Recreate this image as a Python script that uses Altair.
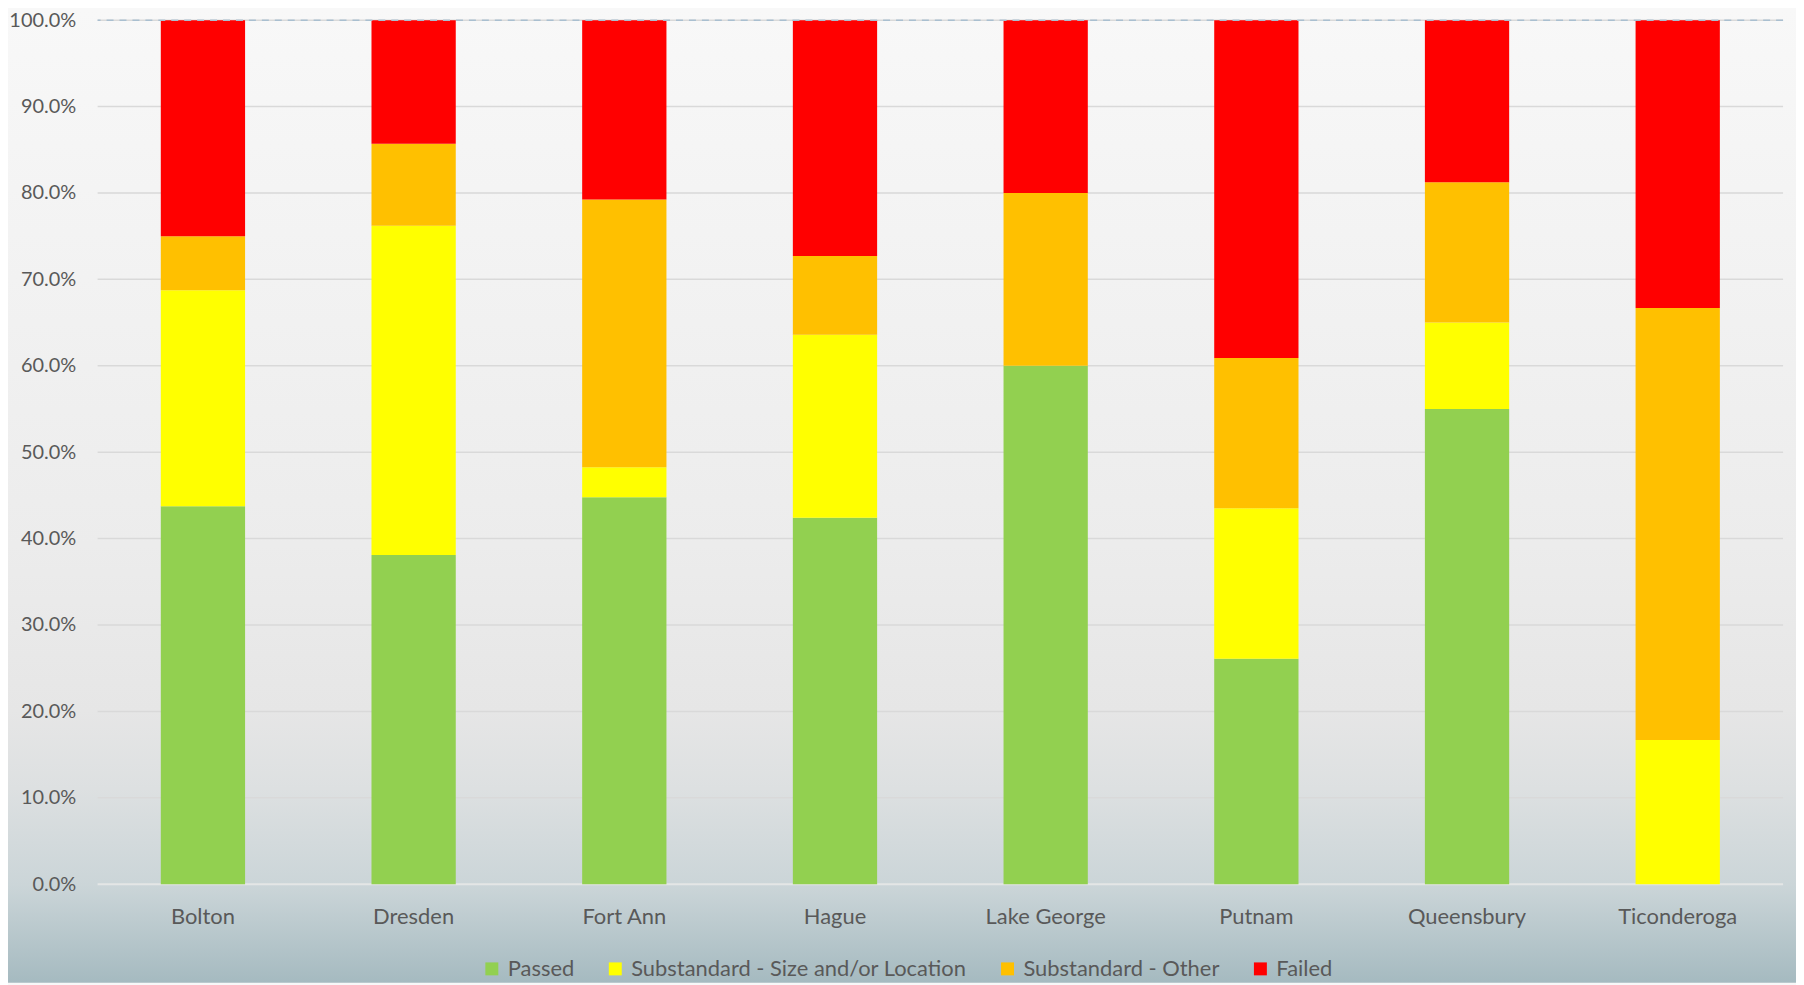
import altair as alt
import pandas as pd

towns = ["Bolton", "Dresden", "Fort Ann", "Hague", "Lake George", "Putnam", "Queensbury", "Ticonderoga"]
passed = [0.4375, 0.381, 0.448, 0.424, 0.600, 0.261, 0.550, 0.000]
size_loc = [0.250, 0.381, 0.0345, 0.212, 0.000, 0.174, 0.100, 0.167]
other = [0.0625, 0.095, 0.310, 0.091, 0.200, 0.174, 0.1625, 0.500]
failed = [0.250, 0.143, 0.2075, 0.273, 0.200, 0.391, 0.1875, 0.333]
categories = ["Passed", "Substandard - Size and/or Location", "Substandard - Other", "Failed"]
colors = ["#92d050", "#ffff00", "#ffc000", "#ff0000"]
y_ticks = [0.0, 0.1, 0.2, 0.3, 0.4, 0.5, 0.6, 0.7, 0.8, 0.9, 1.0]
grid_values = [0.1, 0.2, 0.3, 0.4, 0.5, 0.6, 0.7, 0.8, 0.9, 1.0]

series = [passed, size_loc, other, failed]
rows = []
for ci, (cat, vals) in enumerate(zip(categories, series)):
    for t, v in zip(towns, vals):
        rows.append({"town": t, "category": cat, "value": v, "idx": ci})
df = pd.DataFrame(rows)

W, H = 1693, 868
PAD_L, PAD_T = 90, 10
TOTAL_W, TOTAL_H = 1796, 977
FONT = "Lato"
TXT = "#595959"
FS = 22

yscale = alt.Scale(domain=[0, 1], nice=False, zero=True)
y_axis = alt.Axis(
    values=y_ticks, format=".1%", grid=False, domain=False, ticks=False,
    tickSize=0, labelPadding=22, labelFont=FONT, labelFontSize=20,
    labelColor=TXT, zindex=1, title=None,
)

bg = alt.Chart(pd.DataFrame({"a": [0]})).mark_rect(
    clip=False,
    fill=alt.Gradient(
        gradient="linear",
        x1=0, x2=0, y1=0, y2=1,
        stops=[
            alt.GradientStop(color="#f8f8f8", offset=0),
            alt.GradientStop(color="#ececec", offset=0.55),
            alt.GradientStop(color="#e6e6e6", offset=0.72),
            alt.GradientStop(color="#dde0e1", offset=0.80),
            alt.GradientStop(color="#cbd5d8", offset=0.90),
            alt.GradientStop(color="#a5bac0", offset=1.0),
        ],
    ),
).encode(
    x=alt.value(-PAD_L), x2=alt.value(TOTAL_W - PAD_L),
    y=alt.value(-PAD_T), y2=alt.value(TOTAL_H - PAD_T),
)

grid = alt.Chart(pd.DataFrame({"v": grid_values})).mark_rule(
    color="#d9d9d9", strokeWidth=1.5
).encode(y=alt.Y("v:Q", scale=yscale, axis=y_axis, title=None))

base_line = alt.Chart(pd.DataFrame({"v": [0.0]})).mark_rule(
    color="#e4e6e6", strokeWidth=2
).encode(y=alt.Y("v:Q", scale=yscale, axis=y_axis, title=None))

bars = alt.Chart(df).mark_bar().encode(
    x=alt.X(
        "town:N", sort=towns, title=None,
        scale=alt.Scale(paddingInner=0.6, paddingOuter=0.3),
        axis=alt.Axis(
            domain=False, ticks=False, tickSize=0, labelAngle=0, labelPadding=22,
            labelFont=FONT, labelFontSize=FS, labelColor=TXT, zindex=1,
        ),
    ),
    y=alt.Y("value:Q", stack="zero", scale=yscale, axis=y_axis, title=None),
    color=alt.Color(
        "category:N", sort=categories,
        scale=alt.Scale(domain=categories, range=colors),
        legend=alt.Legend(
            title=None, orient="none", legendX=385, legendY=942,
            direction="horizontal", symbolType="square", symbolSize=169,
            symbolStrokeWidth=0, labelFont=FONT, labelFontSize=FS,
            labelColor=TXT, columnPadding=30, labelOffset=5, padding=0,
            labelLimit=0,
        ),
    ),
    order=alt.Order("idx:Q"),
)

top_line = alt.Chart(pd.DataFrame({"v": [1.0]})).mark_rule(
    color="#a9bfd0", strokeWidth=1.5, strokeDash=[7, 6]
).encode(y=alt.Y("v:Q", scale=yscale, axis=y_axis, title=None))

chart = alt.layer(bg, grid, base_line, bars, top_line).properties(
    width=W, height=H,
    autosize=alt.AutoSizeParams(type="none"),
    padding={"left": PAD_L, "top": PAD_T, "right": TOTAL_W - PAD_L - W, "bottom": TOTAL_H - PAD_T - H},
    background="#f8f8f8",
).configure_view(stroke=None).configure(font=FONT)

chart.save("out.html", embed_options={"renderer": "svg", "actions": False})
